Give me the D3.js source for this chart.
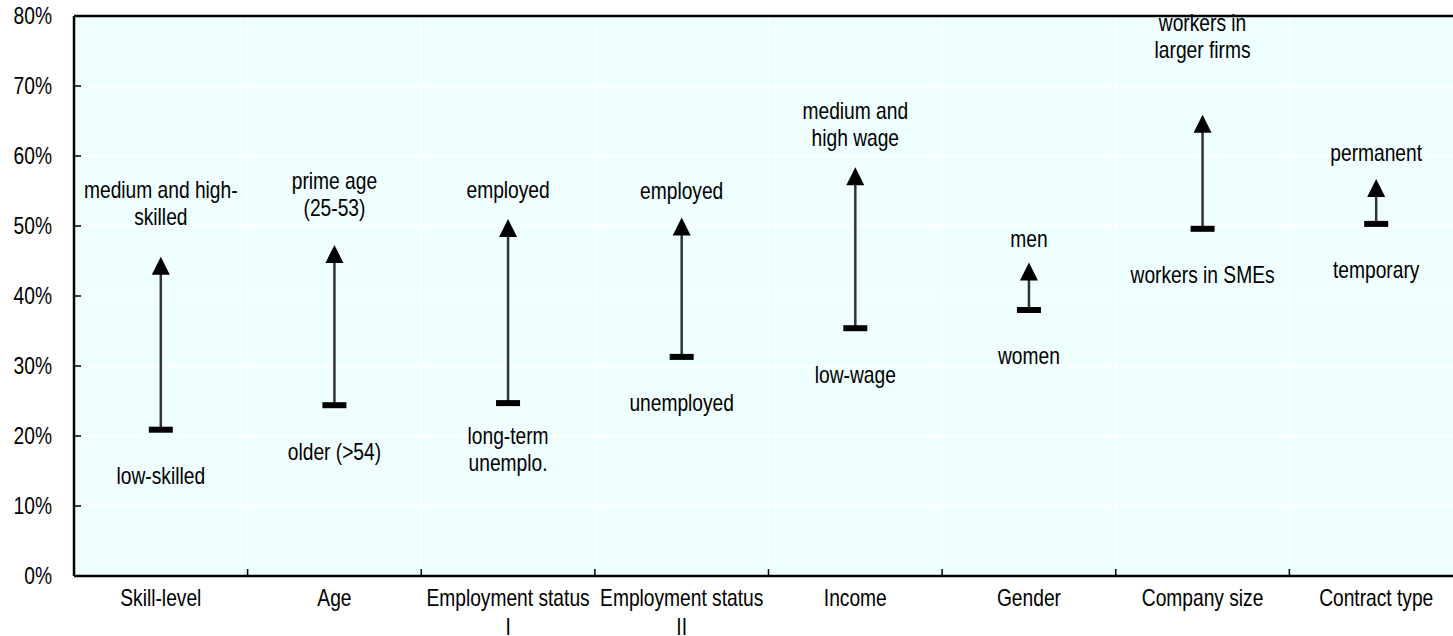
<!DOCTYPE html>
<html>
<head>
<meta charset="utf-8">
<script src="https://cdn.jsdelivr.net/npm/d3@7"></script>
<style>
  body { margin: 0; background: #fff; }
  svg { display: block; font-family: "Liberation Sans", Arial, sans-serif; }
</style>
</head>
<body>
<svg id="chart" width="1453" height="636"></svg>
<script>
// categories on the x axis (split in lines as shown)
const categories = [
    ["Skill-level"], ["Age"], ["Employment status", "I"], ["Employment status", "II"],
    ["Income"], ["Gender"], ["Company size"], ["Contract type"]
];
// low group (bar marker) and high group (arrow), in %
const lowValues = [20.9, 24.4, 24.7, 31.3, 35.4, 38.0, 49.6, 50.3];
const highValues = [45.6, 47.3, 51.0, 51.2, 58.4, 44.8, 65.9, 56.7];
const lowLabels = [
    ["low-skilled"], ["older (>54)"], ["long-term", "unemplo."], ["unemployed"],
    ["low-wage"], ["women"], ["workers in SMEs"], ["temporary"]
];
const highLabels = [
    ["medium and high-", "skilled"], ["prime age", "(25-53)"], ["employed"], ["employed"],
    ["medium and", "high wage"], ["men"], ["workers in", "larger firms"], ["permanent"]
];
const yTicks = [0, 10, 20, 30, 40, 50, 60, 70, 80];

// layout
const margin = { left: 74, top: 16 };
const plotW = 1389, plotH = 560;
const lineH = 27;
const sx = 0.8;           // glyphs in the picture are narrow
const highGap = [40, 37, 29, 27, 30, 24, 65, 27]; // px from arrow tip to last label line

const svg = d3.select("#chart");
const g = svg.append("g").attr("transform", `translate(${margin.left},${margin.top})`);

const x = d3.scaleBand().domain(d3.range(categories.length)).range([0, plotW]);
const y = d3.scaleLinear().domain([0, 80]).range([plotH, 0]);

// background
g.append("rect").attr("width", plotW).attr("height", plotH).attr("fill", "#effefe");

// grid
g.selectAll(".hgrid").data(yTicks.slice(1, -1)).enter().append("line")
    .attr("x1", 0).attr("x2", plotW)
    .attr("y1", d => y(d)).attr("y2", d => y(d))
    .attr("stroke", "#fff").attr("stroke-width", 1.5);
g.selectAll(".vgrid").data(d3.range(1, categories.length)).enter().append("line")
    .attr("x1", d => x(d)).attr("x2", d => x(d))
    .attr("y1", 0).attr("y2", plotH)
    .attr("stroke", "#fff").attr("stroke-width", 1.5);

function label(sel, px, py, txt, size) {
    sel.append("text")
        .attr("transform", `translate(${px},${py}) scale(${sx},1)`)
        .attr("text-anchor", "middle")
        .attr("dy", "0.35em")
        .attr("font-size", size || 24)
        .attr("fill", "#000")
        .text(txt);
}

// y axis ticks + labels
yTicks.forEach(t => {
    g.append("line").attr("x1", 0).attr("x2", 7).attr("y1", y(t)).attr("y2", y(t))
        .attr("stroke", "#000").attr("stroke-width", 1.5);
    g.append("text")
        .attr("transform", `translate(-22,${y(t)}) scale(${sx},1)`)
        .attr("text-anchor", "end").attr("dy", "0.35em")
        .attr("font-size", 24).attr("fill", "#000")
        .text(t + "%");
});

// x axis ticks + labels
d3.range(1, categories.length).forEach(i => {
    g.append("line").attr("x1", x(i)).attr("x2", x(i)).attr("y1", plotH).attr("y2", plotH - 7)
        .attr("stroke", "#000").attr("stroke-width", 1.5);
});
categories.forEach((lines, i) => {
    const cx = x(i) + x.bandwidth() / 2;
    lines.forEach((l, k) => label(g, cx, plotH + 22 + k * 29, l));
});

// axes frame
g.append("line").attr("x1", 0).attr("x2", 0).attr("y1", 0).attr("y2", plotH)
    .attr("stroke", "#000").attr("stroke-width", 2.5);
g.append("line").attr("x1", 0).attr("x2", plotW).attr("y1", plotH).attr("y2", plotH)
    .attr("stroke", "#000").attr("stroke-width", 2.5);
g.append("line").attr("x1", 0).attr("x2", plotW).attr("y1", 0).attr("y2", 0)
    .attr("stroke", "#000").attr("stroke-width", 2.5);

// marks
categories.forEach((c, i) => {
    const cx = x(i) + x.bandwidth() / 2;
    const yl = y(lowValues[i]), yh = y(highValues[i]);

    g.append("line").attr("x1", cx).attr("x2", cx).attr("y1", yl).attr("y2", yh + 16)
        .attr("stroke", "#333").attr("stroke-width", 2.5);
    g.append("path")
        .attr("d", `M${cx},${yh} L${cx + 9},${yh + 18} L${cx - 9},${yh + 18} Z`)
        .attr("fill", "#000");
    g.append("rect").attr("x", cx - 12).attr("y", yl - 3).attr("width", 24).attr("height", 6)
        .attr("fill", "#000");

    const hl = highLabels[i];
    hl.forEach((l, k) => label(g, cx, yh - highGap[i] - (hl.length - 1 - k) * lineH, l));
    const ll = lowLabels[i];
    ll.forEach((l, k) => label(g, cx, yl + 46 - (ll.length - 1) * lineH / 2 + k * lineH, l));
});
</script>
</body>
</html>
